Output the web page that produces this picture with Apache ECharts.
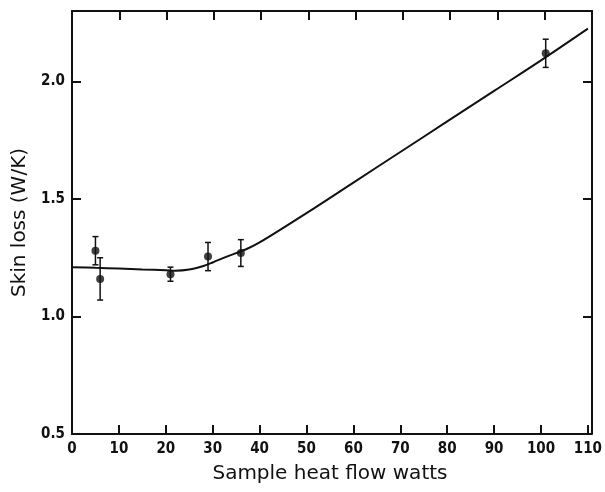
<!DOCTYPE html>
<html>
<head>
<meta charset="utf-8">
<script src="https://cdn.jsdelivr.net/npm/echarts@6/dist/echarts.min.js"></script>
<style>html,body{margin:0;padding:0;background:#fff;}#chart{width:605px;height:492px;}</style>
</head>
<body>
<div id="chart"></div>
<script>
// Measured data points (sample heat flow, skin loss) with error half-widths
var pointX = [5, 6, 21, 29, 36, 101];
var pointY = [1.28, 1.16, 1.18, 1.255, 1.27, 2.12];
var pointErr = [0.06, 0.09, 0.03, 0.06, 0.057, 0.06];

// Fitted curve
var curveX = [0, 5, 10, 15, 20, 22, 25, 28, 30, 33, 37, 40, 50, 60, 70, 80, 90, 100, 110];
var curveY = [1.21, 1.207, 1.204, 1.2, 1.197, 1.195, 1.2, 1.215, 1.23, 1.255, 1.285, 1.315, 1.44, 1.57, 1.70, 1.83, 1.96, 2.09, 2.225];

var xTicks = [0, 10, 20, 30, 40, 50, 60, 70, 80, 90, 100, 110];
var yTicks = [0.5, 1.0, 1.5, 2.0];

var pts = pointX.map(function (x, i) { return [x, pointY[i], pointErr[i]]; });
var curve = curveX.map(function (x, i) { return [x, curveY[i]]; });

var chart = echarts.init(document.getElementById('chart'));
var labelFont = '"Liberation Sans Narrow", "DejaVu Sans Condensed", sans-serif';
var nameFont = '"DejaVu Sans", sans-serif';
var g = { left: 72, right: 13, top: 11, bottom: 58 };
var lineSt = { color: '#111', width: 2 };

chart.setOption({
  animation: false,
  backgroundColor: '#fff',
  grid: [Object.assign({}, g), Object.assign({}, g)],
  xAxis: [{
    gridIndex: 0, type: 'value', min: 0, max: 110, interval: 10, position: 'bottom',
    name: 'Sample heat flow watts', nameLocation: 'middle', nameGap: 30,
    nameTextStyle: { fontFamily: nameFont, fontSize: 20, color: '#111' },
    axisLine: { show: true, onZero: false, lineStyle: lineSt },
    axisTick: { show: true, inside: true, length: 9, lineStyle: lineSt },
    axisLabel: { show: true, margin: 8, fontFamily: labelFont, fontSize: 15, color: '#111', fontWeight: 'bold',
      formatter: function (v) { return xTicks.indexOf(v) >= 0 ? String(v) : ''; } },
    splitLine: { show: false }
  }, {
    gridIndex: 1, type: 'value', min: 0, max: 110, interval: 10, position: 'top',
    axisLine: { show: true, onZero: false, lineStyle: lineSt },
    axisTick: { show: true, inside: true, length: 9, lineStyle: lineSt },
    axisLabel: { show: false }, splitLine: { show: false }
  }],
  yAxis: [{
    gridIndex: 0, type: 'value', min: 0.5, max: 2.3, interval: 0.5, position: 'left',
    name: 'Skin loss (W/K)', nameLocation: 'middle', nameGap: 38, nameRotate: 90,
    nameTextStyle: { fontFamily: nameFont, fontSize: 20, color: '#111' },
    axisLine: { show: true, onZero: false, lineStyle: lineSt },
    axisTick: { show: true, inside: true, length: 9, lineStyle: lineSt },
    axisLabel: { show: true, margin: 7, fontFamily: labelFont, fontSize: 15, color: '#111', fontWeight: 'bold', showMaxLabel: false,
      formatter: function (v) { return yTicks.indexOf(Math.round(v * 10) / 10) >= 0 ? v.toFixed(1) : ''; } },
    splitLine: { show: false }
  }, {
    gridIndex: 1, type: 'value', min: 0.5, max: 2.3, interval: 0.5, position: 'right',
    axisLine: { show: true, onZero: false, lineStyle: lineSt },
    axisTick: { show: true, inside: true, length: 9, lineStyle: lineSt },
    axisLabel: { show: false }, splitLine: { show: false }
  }],
  series: [{
    type: 'line', xAxisIndex: 0, yAxisIndex: 0, data: curve, smooth: 0.35, showSymbol: false, symbol: 'none',
    lineStyle: { color: '#111', width: 2 }, z: 2
  }, {
    type: 'custom', xAxisIndex: 0, yAxisIndex: 0, data: pts, z: 3,
    renderItem: function (params, api) {
      var x = api.value(0), y = api.value(1), e = api.value(2);
      var top = api.coord([x, y + e]);
      var bot = api.coord([x, y - e]);
      var hw = 3;
      var st = { stroke: '#111', lineWidth: 1.5 };
      return { type: 'group', children: [
        { type: 'line', shape: { x1: top[0], y1: top[1], x2: bot[0], y2: bot[1] }, style: st },
        { type: 'line', shape: { x1: top[0] - hw, y1: top[1], x2: top[0] + hw, y2: top[1] }, style: st },
        { type: 'line', shape: { x1: bot[0] - hw, y1: bot[1], x2: bot[0] + hw, y2: bot[1] }, style: st }
      ] };
    }
  }, {
    type: 'scatter', xAxisIndex: 0, yAxisIndex: 0, data: pts.map(function (p) { return [p[0], p[1]]; }),
    symbol: 'circle', symbolSize: 8, itemStyle: { color: '#111' }, z: 4
  }, {
    type: 'scatter', xAxisIndex: 1, yAxisIndex: 1, data: [], silent: true
  }]
});
</script>
</body>
</html>
